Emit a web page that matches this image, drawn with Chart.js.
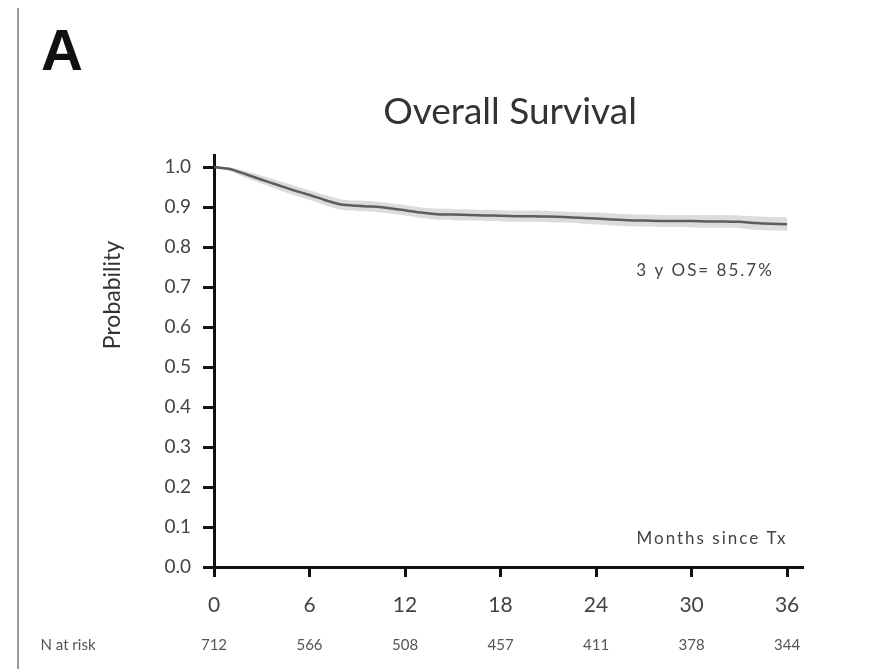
<!DOCTYPE html>
<html>
<head>
<meta charset="utf-8">
<title>Overall Survival</title>
<script src="https://cdn.jsdelivr.net/npm/chart.js@4"></script>
<style>
  html, body { margin: 0; padding: 0; background: #fff; }
  #wrap { width: 879px; height: 669px; }
</style>
</head>
<body>
<div id="wrap"><canvas id="osChart" width="879" height="669"></canvas></div>
<script>
// months since transplant
const months = [0, 1, 2, 3, 4, 5, 6, 7, 8, 9, 10, 11, 12, 13, 14, 15, 16, 17, 18,
  19, 20, 21, 22, 23, 24, 25, 26, 27, 28, 29, 30, 31, 32, 33, 34, 35, 36];
const survival = [1.000, 0.995, 0.982, 0.968, 0.955, 0.942, 0.930, 0.917, 0.906, 0.903,
  0.901, 0.897, 0.892, 0.886, 0.882, 0.881, 0.880, 0.879, 0.878, 0.877, 0.877, 0.876,
  0.875, 0.873, 0.871, 0.869, 0.867, 0.866, 0.865, 0.865, 0.865, 0.864, 0.864, 0.863,
  0.860, 0.858, 0.857];
const upperCI = [1.000, 0.999, 0.990, 0.978, 0.966, 0.954, 0.942, 0.930, 0.919, 0.916,
  0.914, 0.910, 0.905, 0.899, 0.896, 0.895, 0.894, 0.893, 0.892, 0.891, 0.891, 0.890,
  0.889, 0.887, 0.886, 0.884, 0.882, 0.881, 0.880, 0.880, 0.880, 0.880, 0.880, 0.879,
  0.877, 0.875, 0.874];
const lowerCI = [1.000, 0.990, 0.973, 0.958, 0.944, 0.930, 0.918, 0.904, 0.893, 0.890,
  0.888, 0.884, 0.879, 0.873, 0.868, 0.867, 0.866, 0.865, 0.864, 0.863, 0.863, 0.862,
  0.861, 0.859, 0.856, 0.854, 0.852, 0.851, 0.850, 0.850, 0.849, 0.848, 0.848, 0.847,
  0.843, 0.841, 0.840];

const xTicks = [0, 6, 12, 18, 24, 30, 36];
const yTicks = [0, 0.1, 0.2, 0.3, 0.4, 0.5, 0.6, 0.7, 0.8, 0.9, 1.0];
const nAtRisk = [712, 566, 508, 457, 411, 378, 344];

const toPoints = (arr) => months.map((m, i) => ({ x: m, y: arr[i] }));

const extras = {
  id: 'extras',
  beforeDraw(chart) {
    const { ctx } = chart;
    ctx.save();
    ctx.fillStyle = '#fff';
    ctx.fillRect(0, 0, chart.width, chart.height);
    ctx.restore();
  },
  afterDraw(chart) {
    const { ctx } = chart;
    const x = chart.scales.x;
    ctx.save();
    // frame line on the left
    ctx.strokeStyle = '#999';
    ctx.lineWidth = 2;
    ctx.beginPath();
    ctx.moveTo(18, 8);
    ctx.lineTo(18, 669);
    ctx.stroke();

    // panel letter
    ctx.fillStyle = '#111';
    ctx.font = 'bold 58px "Liberation Sans", Arial, sans-serif';
    ctx.textAlign = 'left';
    ctx.textBaseline = 'alphabetic';
    ctx.fillText('A', 41, 70);

    // chart title
    ctx.fillStyle = '#333';
    ctx.font = '37px Lato, sans-serif';
    ctx.textAlign = 'center';
    ctx.textBaseline = 'middle';
    ctx.fillText('Overall Survival', 510, 112);

    // y axis title
    ctx.save();
    ctx.translate(113, 295);
    ctx.rotate(-Math.PI / 2);
    ctx.font = '23px Lato, sans-serif';
    ctx.fillStyle = '#333';
    ctx.fillText('Probability', 0, 0);
    ctx.restore();

    // labels in the plot
    ctx.fillStyle = '#444';
    ctx.letterSpacing = '2px';
    ctx.font = '17px Lato, sans-serif';
    ctx.fillText('3 y OS= 85.7%', 705, 271);
    ctx.fillText('Months since Tx', 712, 539);
    ctx.letterSpacing = '0px';

    // number at risk row
    ctx.fillStyle = '#555';
    ctx.font = '15px Lato, sans-serif';
    ctx.fillText('N at risk', 68, 645);
    xTicks.forEach((m, i) => {
      ctx.fillText(String(nAtRisk[i]), x.getPixelForValue(m), 645);
    });
    ctx.restore();
  },
};

new Chart(document.getElementById('osChart'), {
  type: 'line',
  data: {
    datasets: [
      {
        label: 'upper',
        data: toPoints(upperCI),
        borderWidth: 0,
        pointRadius: 0,
        backgroundColor: 'rgba(140, 140, 140, 0.3)',
        fill: '+1',
        tension: 0.2,
      },
      {
        label: 'lower',
        data: toPoints(lowerCI),
        borderWidth: 0,
        pointRadius: 0,
        fill: false,
        tension: 0.2,
      },
      {
        label: 'Overall Survival',
        data: toPoints(survival),
        borderColor: '#4a4a4a',
        borderWidth: 2.5,
        pointRadius: 0,
        fill: false,
        tension: 0.2,
      },
    ],
  },
  plugins: [extras],
  options: {
    responsive: false,
    animation: false,
    layout: { padding: { left: 0, right: 76, top: 155, bottom: 0 } },
    plugins: {
      legend: { display: false },
      tooltip: { enabled: false },
      title: { display: false },
    },
    scales: {
      x: {
        type: 'linear',
        min: 0,
        max: 37,
        afterBuildTicks: (s) => { s.ticks = xTicks.map((v) => ({ value: v })); },
        afterFit: (s) => { s.height = 102; },
        grid: {
          drawOnChartArea: false,
          tickLength: 10,
          tickWidth: 3,
          tickColor: '#111',
        },
        border: { color: '#111', width: 3 },
        ticks: {
          color: '#444',
          font: { family: 'Lato, sans-serif', size: 21 },
          padding: 16,
          maxRotation: 0,
        },
      },
      y: {
        min: 0,
        max: 1.03,
        afterBuildTicks: (s) => { s.ticks = yTicks.map((v) => ({ value: v })); },
        afterFit: (s) => { s.width = 214; },
        grid: {
          drawOnChartArea: false,
          tickLength: 11,
          tickWidth: 3,
          tickColor: '#111',
        },
        border: { color: '#111', width: 3 },
        ticks: {
          color: '#444',
          font: { family: 'Lato, sans-serif', size: 19 },
          padding: 12,
          callback: (v) => v.toFixed(1),
        },
      },
    },
  },
});
</script>
</body>
</html>
